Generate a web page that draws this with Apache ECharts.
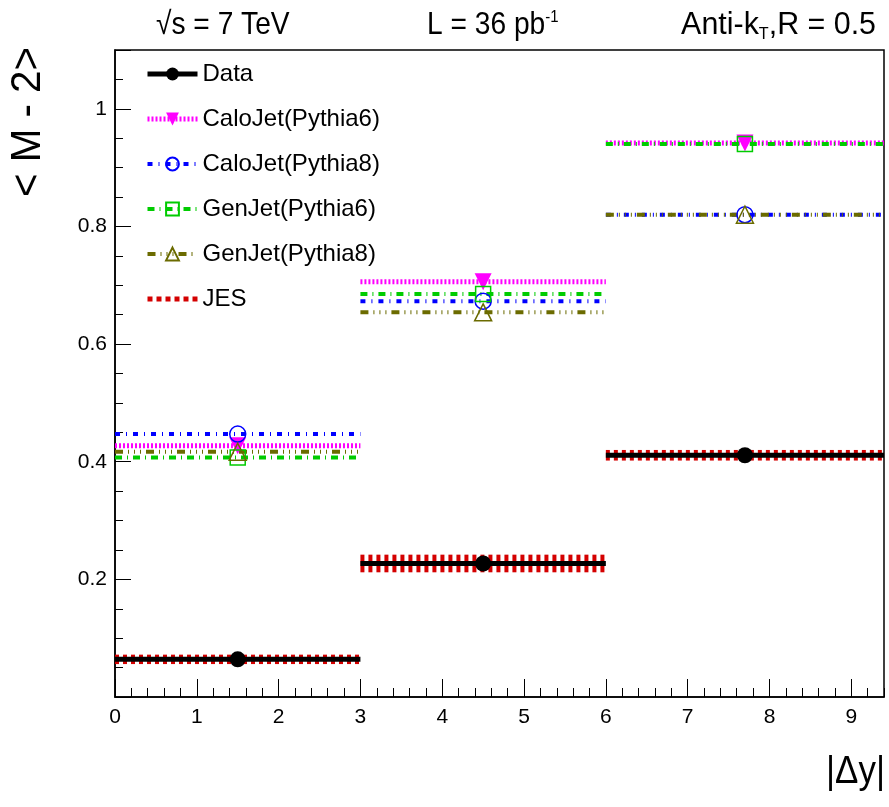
<!DOCTYPE html>
<html>
<head>
<meta charset="utf-8">
<script src="https://cdn.jsdelivr.net/npm/echarts@6/dist/echarts.min.js"></script>
<style>
html,body{margin:0;padding:0;background:#fff;}
#main{width:889px;height:807px;}
</style>
</head>
<body>
<div id="main"></div>
<script>
// ---- data ----
const binEdges   = [0, 3, 6, 9.4];
const binCenters = [1.5, 4.5, 7.7];
const dataValues = [0.064, 0.227, 0.411];
const caloPythia6 = [0.427, 0.706, 0.942];
const caloPythia8 = [0.447, 0.673, 0.820];
const genPythia6  = [0.407, 0.685, 0.940];
const genPythia8  = [0.417, 0.654, 0.820];
const jesErr      = [0.008, 0.015, 0.009];
const xTicks = [0, 1, 2, 3, 4, 5, 6, 7, 8, 9];
const yTicks = [0.2, 0.4, 0.6, 0.8, 1];

const FONT = '"Liberation Sans", Arial, Helvetica, sans-serif';
const X_MIN = 0, X_MAX = 9.4, Y_MIN = 0, Y_MAX = 1.1;

function stepSeries(name, vals, style) {
  const out = [];
  for (let i = 0; i < vals.length; i++) {
    out.push(Object.assign({
      type: 'line',
      name: name,
      xAxisIndex: 0, yAxisIndex: 0,
      showAllSymbol: true,
      data: [
        {value: [binEdges[i], vals[i]], symbol: 'none'},
        {value: [binCenters[i], vals[i]]},
        {value: [binEdges[i + 1], vals[i]], symbol: 'none'}
      ],
      animation: false
    }, style));
  }
  return out;
}

const series = [];
// JES band (drawn first, behind data)
series.push({
  type: 'custom',
  name: 'JES',
  xAxisIndex: 0, yAxisIndex: 0,
  itemStyle: {color: '#d40000'},
  z: 1,
  data: dataValues.map((v, i) => [binEdges[i], binEdges[i + 1], v, jesErr[i]]),
  renderItem: function (params, api) {
    const x0 = api.value(0), x1 = api.value(1), y = api.value(2), e = api.value(3);
    const p0 = api.coord([x0, y]);
    const p1 = api.coord([x1, y]);
    const top = api.coord([x0, y + e])[1];
    const bot = api.coord([x0, y - e])[1];
    return {
      type: 'line',
      shape: {x1: p0[0], y1: p0[1], x2: p1[0], y2: p1[1]},
      style: {stroke: '#d40000', lineWidth: Math.abs(bot - top), lineDash: [4, 4], fill: null}
    };
  },
  animation: false
});

const styles = {
  'CaloJet(Pythia6)': {
    z: 3,
    symbol: 'triangle', symbolRotate: 180, symbolSize: 17,
    lineStyle: {color: '#ff00ff', width: 5, type: [2, 2]},
    itemStyle: {color: '#ff00ff'}
  },
  'CaloJet(Pythia8)': {
    z: 3,
    symbol: 'circle', symbolSize: 16,
    lineStyle: {color: '#0000ff', width: 4, type: [5, 6, 1, 6]},
    itemStyle: {color: 'rgba(255,255,255,0)', borderColor: '#0000ff', borderWidth: 1.5}
  },
  'GenJet(Pythia6)': {
    z: 3,
    symbol: 'rect', symbolSize: 15,
    lineStyle: {color: '#00cc00', width: 4, type: [7, 5, 1, 5]},
    itemStyle: {color: 'rgba(255,255,255,0)', borderColor: '#00cc00', borderWidth: 1.5}
  },
  'GenJet(Pythia8)': {
    z: 3,
    symbol: 'triangle', symbolSize: 17,
    lineStyle: {color: '#6b6b00', width: 4, type: [8, 5, 1, 5, 1, 5, 1, 5]},
    itemStyle: {color: 'rgba(255,255,255,0)', borderColor: '#6b6b00', borderWidth: 1.5}
  },
  'Data': {
    z: 5,
    symbol: 'circle', symbolSize: 16,
    lineStyle: {color: '#000000', width: 5, type: 'solid'},
    itemStyle: {color: '#000000'}
  }
};

series.push(...stepSeries('CaloJet(Pythia6)', caloPythia6, styles['CaloJet(Pythia6)']));
series.push(...stepSeries('CaloJet(Pythia8)', caloPythia8, styles['CaloJet(Pythia8)']));
series.push(...stepSeries('GenJet(Pythia6)', genPythia6, styles['GenJet(Pythia6)']));
series.push(...stepSeries('GenJet(Pythia8)', genPythia8, styles['GenJet(Pythia8)']));
series.push(...stepSeries('Data', dataValues, styles['Data']));

function legendItem(name) {
  const s = styles[name];
  return {
    name: name,
    lineStyle: {width: s.lineStyle.width, type: s.lineStyle.type, color: s.lineStyle.color}
  };
}

const chart = echarts.init(document.getElementById('main'), null, {renderer: 'canvas'});
chart.setOption({
  animation: false,
  backgroundColor: '#ffffff',
  grid: {left: 115, right: 5, top: 50, bottom: 110, show: true, borderColor: '#000', borderWidth: 1.5, backgroundColor: 'transparent'},
  legend: {
    orient: 'vertical',
    left: 140, top: 57,
    itemWidth: 50, itemHeight: 16,
    itemGap: 21,
    textStyle: {fontFamily: FONT, fontSize: 24, color: '#000'},
    data: [
      legendItem('Data'), legendItem('CaloJet(Pythia6)'), legendItem('CaloJet(Pythia8)'),
      legendItem('GenJet(Pythia6)'), legendItem('GenJet(Pythia8)'),
      {name: 'JES', icon: 'path://M0,0h5v5h-5zM9,0h5v5h-5zM18,0h5v5h-5zM27,0h5v5h-5zM36,0h5v5h-5zM45,0h5v5h-5z'}
    ]
  },
  xAxis: [
    {
      type: 'value', min: X_MIN, max: X_MAX, interval: 1, position: 'bottom',
      axisLine: {show: true, lineStyle: {color: '#000', width: 1.5}},
      axisTick: {show: true, inside: true, length: 18, lineStyle: {color: '#000', width: 1}},
      axisLabel: {
        margin: 10, fontFamily: FONT, fontSize: 21, color: '#000',
        showMaxLabel: false,
        formatter: v => (xTicks.some(t => Math.abs(t - v) < 1e-6) ? String(Math.round(v)) : '')
      },
      splitLine: {show: false}
    },
    {
      type: 'value', min: X_MIN, max: X_MAX, interval: 0.2, position: 'bottom',
      axisLine: {show: false},
      axisTick: {show: true, inside: true, length: 9, lineStyle: {color: '#000', width: 1}},
      axisLabel: {show: false},
      splitLine: {show: false}
    }
  ],
  yAxis: [
    {
      type: 'value', min: Y_MIN, max: Y_MAX, interval: 0.2, position: 'left',
      axisLine: {show: true, lineStyle: {color: '#000', width: 1.5}},
      axisTick: {show: true, inside: true, length: 16, lineStyle: {color: '#000', width: 1}},
      axisLabel: {
        margin: 8, fontFamily: FONT, fontSize: 21, color: '#000',
        formatter: v => (yTicks.some(t => Math.abs(t - v) < 1e-6) ? String(+v.toFixed(1)) : '')
      },
      splitLine: {show: false}
    },
    {
      type: 'value', min: Y_MIN, max: Y_MAX, interval: 0.05, position: 'left',
      axisLine: {show: false},
      axisTick: {show: true, inside: true, length: 8, lineStyle: {color: '#000', width: 1}},
      axisLabel: {show: false},
      splitLine: {show: false}
    }
  ],
  graphic: [
    {type: 'text', x: 156, y: 25, scaleX: 0.88, style: {
      text: '√s = 7 TeV', font: '32px ' + FONT, fill: '#000', align: 'left', verticalAlign: 'middle'
    }},
    {type: 'text', x: 427, y: 25, scaleX: 0.88, style: {
      text: 'L = 36 pb{sup|-1}', font: '32px ' + FONT, fill: '#000', align: 'left', verticalAlign: 'middle',
      rich: {sup: {fontSize: 17, fontFamily: FONT, verticalAlign: 'top', padding: [0, 0, 14, 0]}}
    }},
    {type: 'text', x: 876, y: 25, scaleX: 0.95, style: {
      text: 'Anti-k{sub|T},R = 0.5', font: '32px ' + FONT, fill: '#000', align: 'right', verticalAlign: 'middle',
      rich: {sub: {fontSize: 17, fontFamily: FONT, padding: [18, 0, 0, 0]}}
    }},
    {type: 'text', x: 28, y: 122, rotation: Math.PI / 2, scaleX: 0.96, style: {
      text: '< M - 2>', font: '42px ' + FONT, fill: '#000', align: 'center', verticalAlign: 'middle'
    }},
    {type: 'text', x: 885, y: 773, scaleX: 0.92, style: {
      text: '|Δy|', font: '38px ' + FONT, fill: '#000', align: 'right', verticalAlign: 'middle'
    }}
  ],
  series: series
});
</script>
</body>
</html>
